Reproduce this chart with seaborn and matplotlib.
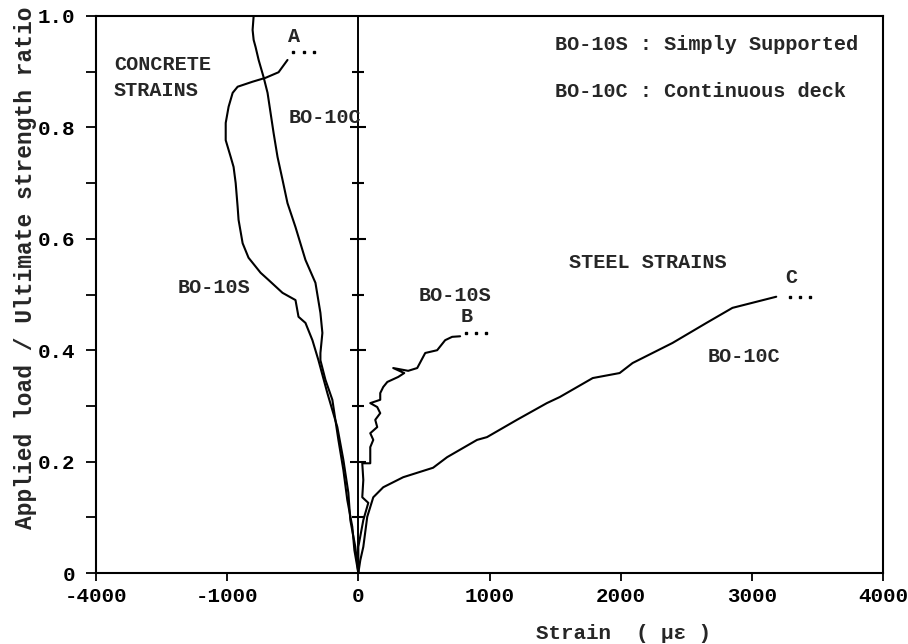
import numpy as np
import pandas as pd
import matplotlib
matplotlib.use("Agg")
import matplotlib.pyplot as plt
import seaborn as sns

# ---------------- data ----------------
# Concrete strains, BO-10C (continuous deck)
conc_10c_strain = [-798, -806, -798, -783, -760, -722, -692, -669, -646, -616, -578, -540,
                   -479, -403, -327, -289, -274, -289, -289, -251, -198, -175, -152, -114,
                   -84, -46, -30, 0]
conc_10c_ratio = [1.0, 0.975, 0.957, 0.944, 0.921, 0.890, 0.862, 0.826, 0.790, 0.747, 0.706, 0.664,
                  0.621, 0.562, 0.521, 0.467, 0.431, 0.395, 0.382, 0.347, 0.311, 0.275, 0.239, 0.185,
                  0.131, 0.083, 0.041, 0.0]

# Concrete strains, BO-10S (simply supported) - from point A down to origin
conc_10s_strain = [-540, -608, -707, -806, -920, -958, -989, -1011, -1011, -973, -951, -935,
                   -920, -913, -882, -837, -745, -684, -578, -479, -456, -403, -350, -304,
                   -236, -160, -114, -76, -61, -23, 0]
conc_10s_ratio = [0.921, 0.899, 0.889, 0.882, 0.873, 0.862, 0.837, 0.808, 0.777, 0.747, 0.729, 0.700,
                  0.657, 0.634, 0.592, 0.566, 0.539, 0.526, 0.503, 0.490, 0.460, 0.449, 0.418, 0.382,
                  0.323, 0.262, 0.203, 0.144, 0.095, 0.047, 0.0]

# Steel strains, BO-10S - origin up to point B
steel_10s_strain = [0, 0, 38, 76, 30, 38, 30, 91, 91, 114, 91, 144, 129, 167, 144, 91, 167, 167,
                    190, 221, 304, 350, 266, 380, 449, 510, 601, 662, 715, 776]
steel_10s_ratio = [0.0, 0.047, 0.095, 0.126, 0.136, 0.167, 0.197, 0.197, 0.226, 0.239, 0.251, 0.262,
                   0.275, 0.287, 0.298, 0.305, 0.311, 0.323, 0.334, 0.343, 0.352, 0.359, 0.368, 0.363,
                   0.368, 0.395, 0.400, 0.418, 0.424, 0.425]

# Steel strains, BO-10C - origin up to point C
steel_10c_strain = [0, 15, 38, 68, 114, 190, 342, 570, 677, 905, 981, 1209, 1437, 1536, 1787,
                    1992, 2091, 2395, 2654, 2852, 3186]
steel_10c_ratio = [0.0, 0.023, 0.047, 0.101, 0.136, 0.154, 0.172, 0.189, 0.208, 0.239, 0.244,
                   0.275, 0.305, 0.316, 0.350, 0.359, 0.377, 0.413, 0.449, 0.476, 0.496]

curve_names = ["conc_10c", "conc_10s", "steel_10s", "steel_10c"]

xtick_pos = [-2000, -1000, 0, 1000, 2000, 3000, 4000]
xtick_labels = ["-4000", "-1000", "0", "1000", "2000", "3000", "4000"]
ytick_pos = [0.0, 0.1, 0.2, 0.3, 0.4, 0.5, 0.6, 0.7, 0.8, 0.9, 1.0]
ytick_labels = ["0", "", "0.2", "", "0.4", "", "0.6", "", "0.8", "", "1.0"]
zero_marks = [0.1, 0.2, 0.3, 0.4, 0.5, 0.6, 0.7, 0.8, 0.9]

# ---------------- build table ----------------
frames = []
for name, xs, ys in zip(curve_names,
                        [conc_10c_strain, conc_10s_strain, steel_10s_strain, steel_10c_strain],
                        [conc_10c_ratio, conc_10s_ratio, steel_10s_ratio, steel_10c_ratio]):
    frames.append(pd.DataFrame({"strain": xs, "ratio": ys, "curve": name,
                                "order": np.arange(len(xs))}))
df = pd.concat(frames, ignore_index=True)

# ---------------- plot ----------------
sns.set_theme(style="ticks")
plt.rcParams["font.family"] = ["Liberation Mono", "DejaVu Sans Mono", "DejaVu Sans"]
plt.rcParams["font.weight"] = "bold"
plt.rcParams["axes.edgecolor"] = "black"
plt.rcParams["xtick.color"] = "black"
plt.rcParams["ytick.color"] = "black"

fig = plt.figure(figsize=(9.08, 6.44), dpi=100)
ax = fig.add_axes([0.1057, 0.1102, 0.8668, 0.865])

sns.lineplot(data=df, x="strain", y="ratio", units="curve", estimator=None, sort=False,
             color="black", linewidth=1.5, legend=False, ax=ax)

# vertical zero line with small cross marks
ax.axvline(0, color="black", linewidth=1.4)
for i, yv in enumerate(zero_marks):
    w = 60 if i % 2 == 1 else 45
    ax.hlines(yv, -w, w, color="black", linewidth=1.5)

# trailing dots after the end points A, B, C (offset from each curve's end)
ends = [(conc_10s_strain[0], conc_10s_ratio[0], 0.014, 45),
        (steel_10s_strain[-1], steel_10s_ratio[-1], 0.006, 45),
        (steel_10c_strain[-1], steel_10c_ratio[-1], 0.0, 105)]
for ex, ey, dy, off in ends:
    ax.plot([ex + off, ex + off + 78, ex + off + 156], [ey + dy] * 3, linestyle="none",
            marker="s", markersize=2.0, color="black")

ax.set_xlim(-2000, 4000)
ax.set_ylim(0, 1.0)
ax.set_xticks(xtick_pos)
ax.set_xticklabels(xtick_labels)
ax.set_yticks(ytick_pos)
ax.set_yticklabels(ytick_labels)
ax.tick_params(axis="y", direction="out", length=7, width=1.3, pad=8, labelsize=15)
ax.tick_params(axis="x", direction="out", length=6, width=1.3, pad=4, labelsize=15)
ax.set_xlabel("")
ax.set_ylabel("")
for s in ax.spines.values():
    s.set_visible(True)
    s.set_linewidth(1.5)
    s.set_color("black")

fs = 14.5
ax.text(-1863, 0.912, "CONCRETE", fontsize=fs, va="center", ha="left")
ax.text(-1863, 0.867, "STRAINS", fontsize=fs, va="center", ha="left")
ax.text(-532, 0.817, "BO-10C", fontsize=fs, va="center", ha="left")
ax.text(-1376, 0.513, "BO-10S", fontsize=fs, va="center", ha="left")
ax.text(-490, 0.963, "A", fontsize=fs, va="center", ha="center")
ax.text(737, 0.498, "BO-10S", fontsize=fs, va="center", ha="center")
ax.text(829, 0.460, "B", fontsize=fs, va="center", ha="center")
ax.text(3300, 0.530, "C", fontsize=fs, va="center", ha="center")
ax.text(2943, 0.388, "BO-10C", fontsize=fs, va="center", ha="center")
ax.text(2205, 0.558, "STEEL STRAINS", fontsize=fs, va="center", ha="center")
ax.text(1498, 0.948, "BO-10S : Simply Supported", fontsize=fs, va="center", ha="left")
ax.text(1498, 0.864, "BO-10C : Continuous deck", fontsize=fs, va="center", ha="left")

fig.text(0.028, 0.584, "Applied load / Ultimate strength ratio", rotation=90,
         fontsize=16.5, va="center", ha="center")
fig.text(0.687, 0.017, "Strain  ( με )", fontsize=15, va="center", ha="center")

fig.savefig("out.png", dpi=100)
